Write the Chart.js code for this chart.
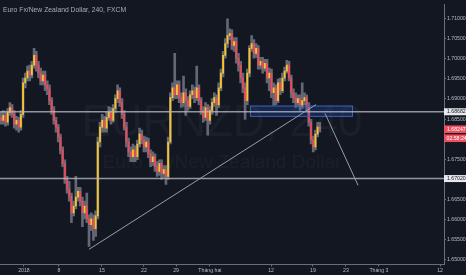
<!DOCTYPE html>
<html><head><meta charset="utf-8">
<script src="https://cdn.jsdelivr.net/npm/chart.js@4.4.1/dist/chart.umd.min.js"></script>
<style>html,body{margin:0;padding:0;background:#131722;overflow:hidden}canvas{display:block}</style>
</head><body>
<canvas id="c" width="466" height="275"></canvas>
<script>
const openP = [1.68543,1.68469,1.68592,1.68420,1.68665,1.68788,1.68616,1.68371,1.68469,1.68298,
1.68616,1.69400,1.69523,1.69694,1.69596,1.69841,1.70086,1.69841,1.69645,1.69449,
1.69596,1.69351,1.69253,1.68959,1.68714,1.68469,1.68298,1.68053,1.67734,1.67391,
1.66999,1.66754,1.66583,1.66166,1.66338,1.66558,1.66705,1.66460,1.66166,1.66338,
1.66019,1.65872,1.66019,1.65774,1.66093,1.67930,1.68298,1.68469,1.68273,1.68543,
1.68665,1.68469,1.68763,1.69008,1.69204,1.68910,1.68616,1.68298,1.67930,1.67685,
1.67563,1.67734,1.67563,1.67881,1.68126,1.67979,1.67808,1.67930,1.67636,1.67440,
1.67563,1.67318,1.67195,1.67391,1.67146,1.67244,1.67073,1.67930,1.69033,1.69278,
1.69106,1.69351,1.69033,1.68910,1.69155,1.68959,1.68812,1.69106,1.69204,1.69033,
1.69278,1.68959,1.68714,1.68543,1.68788,1.68469,1.68714,1.68910,1.69033,1.68861,
1.69278,1.69645,1.70086,1.70380,1.70576,1.70625,1.70331,1.70429,1.70013,1.69841,
1.69523,1.69278,1.68959,1.69645,1.70258,1.70380,1.70135,1.70258,1.69841,1.69939,
1.69768,1.69890,1.69523,1.69645,1.69155,1.69278,1.68959,1.69400,1.69204,1.69523,
1.69694,1.69841,1.69523,1.69155,1.69033,1.68910,1.69008,1.68812,1.68959,1.69033,
1.68812,1.68420,1.67979,1.67808,1.68126,1.68298];
const highP = [1.68665,1.68714,1.68665,1.68763,1.68910,1.68861,1.68714,1.68567,1.68543,1.68714,
1.69523,1.69645,1.69817,1.69841,1.69939,1.70258,1.70184,1.69939,1.69768,1.69694,
1.69694,1.69449,1.69351,1.69033,1.68812,1.68543,1.68371,1.68126,1.67808,1.67489,
1.67073,1.66950,1.66656,1.66460,1.67073,1.66803,1.66803,1.66558,1.66460,1.66656,
1.66117,1.66166,1.66117,1.66215,1.68053,1.68420,1.68616,1.68567,1.68665,1.68812,
1.68788,1.68861,1.69106,1.69351,1.69278,1.69008,1.68714,1.68420,1.68028,1.67808,
1.67881,1.67832,1.67979,1.68273,1.68224,1.68077,1.68053,1.68028,1.67734,1.67685,
1.67636,1.67440,1.67489,1.67489,1.67342,1.67342,1.68053,1.69155,1.69400,1.70135,
1.69449,1.69449,1.69155,1.69572,1.69253,1.69057,1.69204,1.69351,1.69302,1.69817,
1.69351,1.69033,1.68812,1.68910,1.68861,1.68812,1.69008,1.69155,1.69106,1.69400,
1.69743,1.70184,1.70503,1.70993,1.70748,1.70723,1.70527,1.70527,1.70135,1.69939,
1.69645,1.69400,1.69743,1.70331,1.70576,1.70478,1.70380,1.70331,1.70037,1.70037,
1.69988,1.69988,1.69768,1.69743,1.69400,1.69351,1.69498,1.69523,1.69645,1.69792,
1.69964,1.69939,1.69596,1.69253,1.69155,1.69106,1.69106,1.69400,1.69155,1.69106,
1.68910,1.68494,1.68077,1.68224,1.68420,1.68420];
const lowP = [1.68371,1.68371,1.68322,1.68347,1.68592,1.68543,1.68273,1.68224,1.68175,1.68224,
1.68543,1.69278,1.69449,1.69449,1.69523,1.69768,1.69694,1.69523,1.69351,1.69351,
1.69204,1.69106,1.68861,1.68616,1.68371,1.68175,1.67930,1.67636,1.67318,1.66901,
1.66656,1.66460,1.65921,1.66093,1.66264,1.66460,1.66338,1.65823,1.66019,1.65921,
1.65333,1.65725,1.65480,1.65578,1.66019,1.67808,1.68175,1.68175,1.68175,1.68469,
1.68371,1.68420,1.68665,1.68910,1.68812,1.68518,1.68224,1.67808,1.67563,1.67440,
1.67440,1.67440,1.67489,1.67808,1.67881,1.67685,1.67685,1.67538,1.67318,1.67342,
1.67195,1.67073,1.67097,1.66999,1.67048,1.66877,1.66999,1.67881,1.68959,1.69008,
1.69008,1.68910,1.68788,1.68812,1.68592,1.68714,1.68763,1.69008,1.68910,1.68959,
1.68861,1.68616,1.68420,1.68469,1.68102,1.68371,1.68616,1.68812,1.68592,1.68788,
1.69204,1.69547,1.70013,1.70282,1.70478,1.70233,1.70184,1.69890,1.69694,1.69400,
1.69155,1.68494,1.68861,1.69547,1.70184,1.70013,1.70037,1.69743,1.69743,1.69645,
1.69694,1.69400,1.69204,1.69033,1.68837,1.68861,1.68910,1.69106,1.69155,1.69449,
1.69645,1.69449,1.69033,1.68910,1.68788,1.68812,1.68714,1.68763,1.68861,1.68714,
1.68322,1.67881,1.67685,1.67734,1.68053,1.68175];
const closeP = [1.68469,1.68592,1.68420,1.68665,1.68788,1.68616,1.68371,1.68469,1.68298,1.68616,
1.69400,1.69523,1.69694,1.69596,1.69841,1.70086,1.69841,1.69645,1.69449,1.69596,
1.69351,1.69253,1.68959,1.68714,1.68469,1.68298,1.68053,1.67734,1.67391,1.66999,
1.66754,1.66583,1.66166,1.66338,1.66558,1.66705,1.66460,1.66166,1.66338,1.66019,
1.65872,1.66019,1.65774,1.66093,1.67930,1.68298,1.68469,1.68273,1.68543,1.68665,
1.68469,1.68763,1.69008,1.69204,1.68910,1.68616,1.68298,1.67930,1.67685,1.67563,
1.67734,1.67563,1.67881,1.68126,1.67979,1.67808,1.67930,1.67636,1.67440,1.67563,
1.67318,1.67195,1.67391,1.67146,1.67244,1.67073,1.67930,1.69033,1.69278,1.69106,
1.69351,1.69033,1.68910,1.69155,1.68959,1.68812,1.69106,1.69204,1.69033,1.69278,
1.68959,1.68714,1.68543,1.68788,1.68469,1.68714,1.68910,1.69033,1.68861,1.69278,
1.69645,1.70086,1.70380,1.70576,1.70625,1.70331,1.70429,1.70013,1.69841,1.69523,
1.69278,1.68959,1.69645,1.70258,1.70380,1.70135,1.70258,1.69841,1.69939,1.69768,
1.69890,1.69523,1.69645,1.69155,1.69278,1.68959,1.69400,1.69204,1.69523,1.69694,
1.69841,1.69523,1.69155,1.69033,1.68910,1.69008,1.68812,1.68959,1.69033,1.68812,
1.68420,1.67979,1.67808,1.68126,1.68298,1.68247];

const tickIndex = [10.4, 26.3, 45.9, 65.0, 79.6, 95.0, 122.8, 141.9, 156.9, 171.9, 199.7];
const tickLabels = ['2018','8','15','22','29','Tháng hai','12','19','23','Tháng 3','12'];
const priceTicks = [1.65,1.655,1.66,1.665,1.67,1.675,1.68,1.685,1.69,1.695,1.70,1.705,1.71];
const levelLines = [1.68682, 1.67020];
const lastPrice = 1.68247;
const countdown = '02:58:24';
const trendUp = [[40.0,1.65260],[143.3,1.68861]];
const trendDown = [[147.4,1.68640],[162.4,1.66852]];
const zone = {x0:113.2, x1:160.1, p0:1.68837, p1:1.68555};

const UP = '#f6c430', DOWN = '#ec4a5c', WICK = '#646875';
const AXIS = '#6b6e79', TXT = '#b8bbc4';
const FONT = '"Liberation Sans", Arial, sans-serif';

const idx = closeP.map((_, i) => i);
const wickData = idx.map(i => ({x: i, y: [lowP[i], highP[i]]}));
const bodyData = idx.map(i => ({x: i, y: [openP[i], closeP[i]]}));
const bodyColors = idx.map(i => closeP[i] >= openP[i] ? UP : DOWN);

const overlay = {
  id: 'overlay',
  beforeDraw(chart) {
    const {ctx} = chart;
    ctx.save(); ctx.fillStyle = '#131722'; ctx.fillRect(0, 0, chart.width, chart.height); ctx.restore();
  },
  beforeDatasetsDraw(chart) {
    const {ctx, chartArea: a} = chart;
    const cx = (a.left + a.right) / 2;
    ctx.save();
    ctx.fillStyle = 'rgba(255,255,255,0.035)';
    ctx.textAlign = 'center'; ctx.textBaseline = 'alphabetic';
    ctx.font = '44px ' + FONT;
    ctx.fillText('EURNZD, 240', cx, 136);
    ctx.font = '19px ' + FONT;
    ctx.fillText('Euro Fx/New Zealand Dollar', cx, 168);
    ctx.restore();
  },
  afterDatasetsDraw(chart) {
    const {ctx, chartArea: a, scales: {x, y}} = chart;
    ctx.save();
    ctx.beginPath(); ctx.rect(a.left, a.top, a.right - a.left, a.bottom - a.top); ctx.clip();
    const bx0 = x.getPixelForValue(zone.x0), bx1 = x.getPixelForValue(zone.x1);
    const by0 = y.getPixelForValue(zone.p0), by1 = y.getPixelForValue(zone.p1);
    ctx.fillStyle = 'rgba(41,98,255,0.2)';
    ctx.fillRect(bx0, by0, bx1 - bx0, by1 - by0);
    ctx.strokeStyle = '#3a64b0'; ctx.lineWidth = 1;
    ctx.strokeRect(bx0 + 0.5, by0 + 0.5, bx1 - bx0 - 1, by1 - by0 - 1);
    ctx.strokeStyle = 'rgba(180,183,192,0.8)'; ctx.lineWidth = 1.6;
    levelLines.forEach(p => {
      const py = y.getPixelForValue(p);
      ctx.beginPath(); ctx.moveTo(a.left, py); ctx.lineTo(a.right, py); ctx.stroke();
    });
    ctx.strokeStyle = '#9a9da6'; ctx.lineWidth = 1;
    [trendUp, trendDown].forEach(t => {
      ctx.beginPath();
      ctx.moveTo(x.getPixelForValue(t[0][0]), y.getPixelForValue(t[0][1]));
      ctx.lineTo(x.getPixelForValue(t[1][0]), y.getPixelForValue(t[1][1]));
      ctx.stroke();
    });
    ctx.restore();
  },
  afterDraw(chart) {
    const {ctx, chartArea: a, scales: {y}} = chart;
    ctx.save();
    ctx.font = '5.2px ' + FONT;
    ctx.textBaseline = 'middle'; ctx.textAlign = 'left';
    const w = chart.width - a.right;
    levelLines.forEach(p => {
      const py = y.getPixelForValue(p);
      ctx.fillStyle = '#e8e9ed';
      ctx.fillRect(a.right, py - 3.5, w, 7);
      ctx.fillStyle = '#131722';
      ctx.fillText(p.toFixed(5), a.right + 3, py + 0.3);
    });
    const ly = y.getPixelForValue(lastPrice);
    ctx.fillStyle = '#ef4f5e';
    ctx.fillRect(a.right, ly - 3.8, w, 7.6);
    ctx.fillRect(a.right, ly + 5.2, w, 7.6);
    ctx.fillStyle = '#ffffff';
    ctx.fillText(lastPrice.toFixed(5), a.right + 3, ly + 0.3);
    ctx.fillText(countdown, a.right + 2.5, ly + 9.3);
    ctx.fillStyle = '#a9acb6';
    ctx.font = '6.8px ' + FONT;
    ctx.fillText('Euro Fx/New Zealand Dollar, 240, FXCM', 3, 10);
    ctx.restore();
  }
};

new Chart(document.getElementById('c'), {
  type: 'bar',
  data: {
    datasets: [
      {data: bodyData, backgroundColor: bodyColors, barThickness: 1.2, minBarLength: 1, borderWidth: 0, grouped: false, order: 1},
      {data: wickData, backgroundColor: WICK, barThickness: 2, borderWidth: 0, grouped: false, order: 2}
    ]
  },
  options: {
    responsive: false, animation: false, devicePixelRatio: 1,
    layout: {padding: 0},
    plugins: {legend: {display: false}, tooltip: {enabled: false}},
    scales: {
      x: {
        type: 'linear', min: -0.5, max: 201.5, offset: false,
        afterBuildTicks: s => { s.ticks = tickIndex.map(v => ({value: v})); },
        afterFit: s => { s.height = 10.5; },
        ticks: {autoSkip: false, maxRotation: 0, padding: 1, color: TXT, font: {size: 5.2, family: FONT},
          callback: (v, i) => tickLabels[i]},
        grid: {drawOnChartArea: false, drawTicks: true, tickLength: 2, color: AXIS, offset: false},
        border: {color: AXIS}
      },
      y: {
        type: 'linear', position: 'right', min: 1.64882, max: 1.7136,
        afterBuildTicks: s => { s.ticks = priceTicks.map(v => ({value: v})); },
        afterFit: s => { s.width = 22; },
        ticks: {padding: 1, color: TXT, font: {size: 5.2, family: FONT}, callback: v => v.toFixed(5)},
        grid: {drawOnChartArea: false, tickLength: 2, color: AXIS},
        border: {color: AXIS}
      }
    }
  },
  plugins: [overlay]
});
</script>
</body></html>
